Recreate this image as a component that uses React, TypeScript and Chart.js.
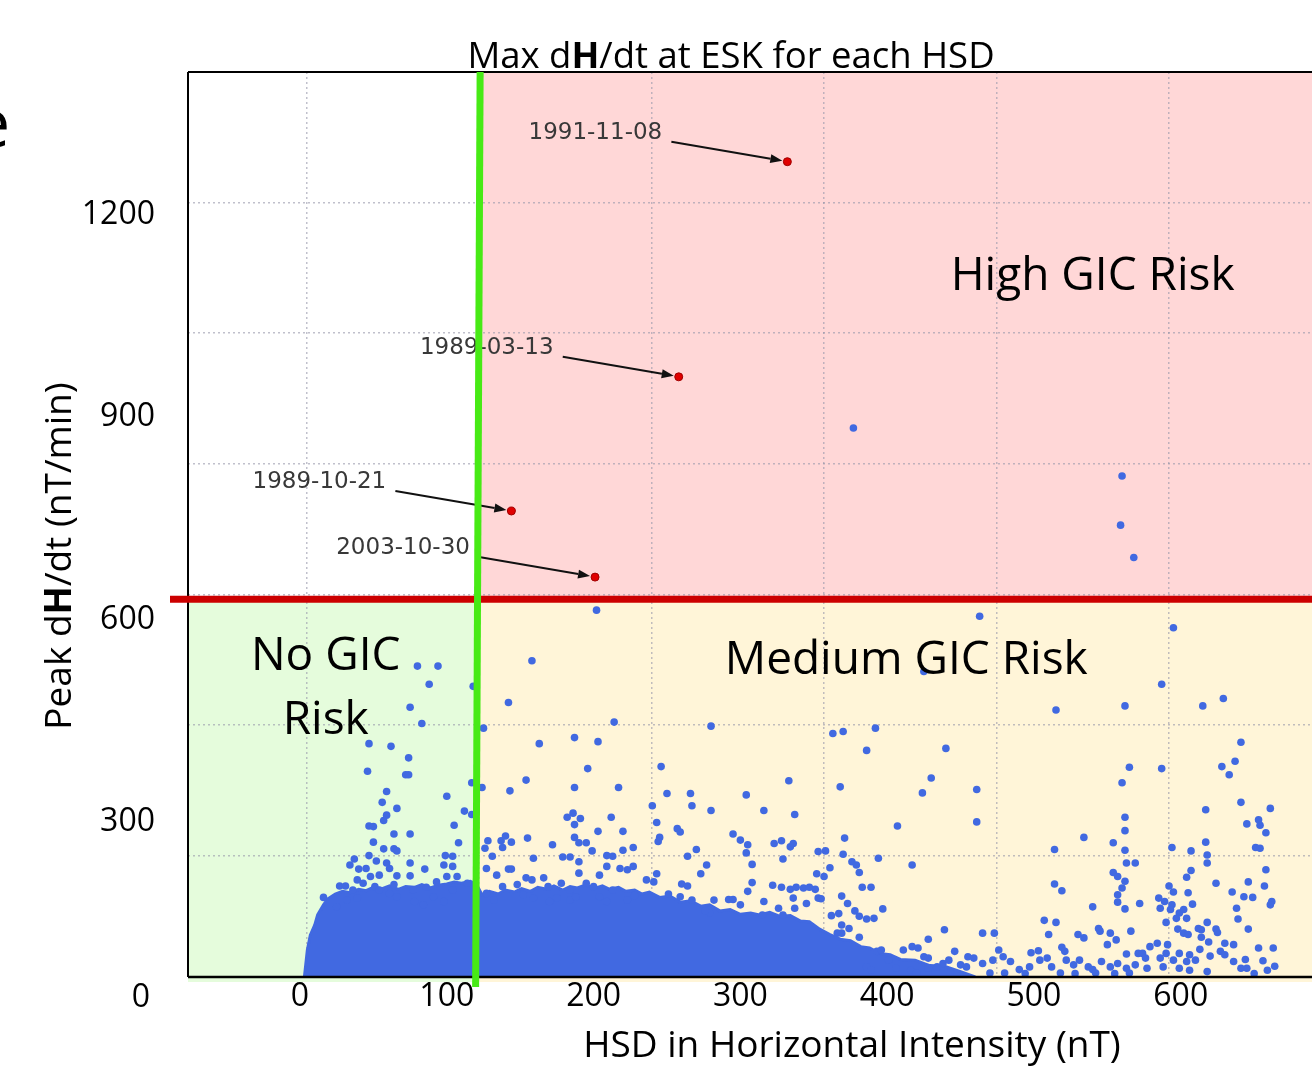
import React, { useEffect, useRef } from "react";
import { Chart, registerables } from "chart.js";

Chart.register(...registerables);

// ---------- axis values ----------
const X_TICKS = [0, 100, 200, 300, 400, 500, 600];
const Y_TICKS = [300, 600, 900, 1200];
const X_MIN = -76.3;
const X_MAX = 689.4;
const Y_MIN = 70;
const Y_MAX = 1412;
// grid of the underlying figure (it does not line up with the overlaid tick labels)
const GRID_X_VALUES = [0, 100, 200, 300, 400, 500];
const GRID_X_MIN = -68.6;
const GRID_X_MAX = 583;
const GRID_Y_VALUES = [200, 400, 600, 800, 1000, 1200];
const GRID_Y_MIN = 14.4;
const GRID_Y_MAX = 1399.4;

// risk thresholds
const HSD_THRESHOLD = 121;
const DHDT_THRESHOLD = 630;

// ---------- texts ----------
const TITLE: [string, boolean][] = [["Max d", false], ["H", true], ["/dt at ESK for each HSD", false]];
const Y_TITLE: [string, boolean][] = [["Peak d", false], ["H", true], ["/dt (nT/min)", false]];
const X_TITLE = "HSD in Horizontal Intensity (nT)";
const REGION_LABELS = ["High GIC Risk", "Medium GIC Risk", "No GIC", "Risk"];

// ---------- annotated events (red points) ----------
const EVENT_DATES = ["1991-11-08", "1989-03-13", "1989-10-21", "2003-10-30"];
const EVENT_HSD = [332, 258, 144, 201];
const EVENT_DHDT = [1279, 960, 761, 663];

// ---------- dense core of the cloud (upper envelope) ----------
const DENSE_EDGE_HSD = [3, 5, 7, 10, 12, 16, 19, 24, 29, 34, 40, 45, 50, 56, 61, 67, 72, 78, 83, 89, 94, 100, 105, 110, 116, 120, 124, 129, 135, 140, 146, 151, 157, 162, 168, 173, 179, 184, 189, 195, 200, 206, 211, 217, 222, 228, 233, 238, 245, 252, 259, 266, 273, 279, 286, 293, 300, 307, 313, 320, 327, 334, 341, 347, 354, 361, 368, 375, 382, 388, 395, 402, 409, 419, 429, 439, 450, 460];
const DENSE_EDGE_DHDT = [70, 110, 132, 147, 162, 177, 186, 193, 197, 195, 200, 198, 203, 201, 205, 200, 204, 203, 207, 202, 206, 208, 211, 209, 212, 208, 192, 197, 193, 199, 196, 201, 197, 203, 200, 205, 199, 204, 202, 207, 201, 205, 200, 203, 197, 199, 193, 196, 188, 190, 181, 183, 175, 177, 168, 170, 163, 165, 162, 166, 160, 161, 153, 152, 141, 133, 126, 124, 115, 113, 105, 103, 96, 95, 87, 86, 78, 70];

// ---------- individual HSD points [HSD, peak dH/dt] ----------
const NO_RISK_POINTS = [
  [80, 531], [94, 531], [88, 504], [75, 470], [83, 446], [47, 416], [62, 412], [74, 395], [46, 375], [72, 370],
  [74, 370], [59, 345], [100, 338], [56, 329], [66, 320], [59, 310], [57, 302], [47, 294], [50, 293], [105, 295],
  [64, 282], [75, 282], [50, 270], [108, 269], [57, 260], [64, 260], [66, 257], [47, 250], [99, 250], [104, 249],
  [37, 245], [34, 236], [52, 242], [59, 239], [75, 239], [98, 236], [104, 234], [40, 230], [45, 231], [61, 231],
  [85, 230], [48, 219], [54, 221], [66, 220], [75, 220], [93, 211], [100, 219], [107, 219], [39, 214], [43, 209],
  [27, 205], [31, 205], [36, 199], [16, 188], [51, 204], [54, 199], [64, 207], [86, 203], [77, 199], [104, 199],
  [32, 184], [39, 187], [61, 194], [66, 189], [91, 189], [98, 182], [78, 182], [84, 177], [25, 174],
  [118, 501], [117, 358], [112, 316], [117, 311], [114, 209],
];

const MEDIUM_POINTS_A = [
  [202, 614], [158, 539], [142, 477], [214, 448], [125, 439], [187, 425], [203, 419], [163, 416], [196, 379], [154, 362],
  [124, 351], [143, 346], [187, 351], [217, 351], [182, 307], [186, 313], [191, 305], [212, 307], [187, 296], [203, 286],
  [220, 286], [140, 279], [137, 272], [144, 270], [128, 272], [155, 276], [187, 277], [190, 269], [172, 266], [138, 262],
  [195, 269], [199, 257], [126, 261], [131, 249], [159, 246], [179, 248], [184, 248], [190, 241], [209, 250], [213, 249],
  [220, 258], [142, 230], [144, 230], [127, 231], [134, 221], [154, 217], [158, 214], [166, 217], [190, 224], [204, 221],
  [209, 234], [218, 231], [223, 229], [138, 204], [148, 207], [169, 204], [178, 209], [184, 199], [195, 209], [200, 204],
  [213, 199], [127, 194], [132, 184], [152, 192], [159, 187], [170, 182], [175, 187], [184, 184], [188, 189], [204, 189],
  [209, 182], [223, 184],
];

const MEDIUM_POINTS_B = [
  [280, 442], [246, 382], [333, 361], [250, 342], [266, 342], [304, 340], [240, 324], [267, 324], [280, 317], [316, 317],
  [337, 311], [243, 299], [257, 290], [259, 285], [245, 277], [244, 271], [295, 282], [300, 273], [305, 266], [323, 268],
  [328, 272], [334, 263], [336, 268], [227, 262], [270, 259], [264, 249], [304, 254], [329, 245], [277, 236], [308, 237],
  [227, 234], [273, 223], [243, 223], [236, 214], [241, 211], [260, 208], [264, 205], [308, 210], [322, 206], [328, 203],
  [334, 200], [338, 203], [228, 191], [251, 193], [259, 189], [267, 184], [305, 197], [282, 184], [292, 185], [295, 185],
  [316, 182], [336, 187], [300, 177], [279, 165], [276, 168], [326, 172], [337, 172], [315, 162], [329, 162],
];

const MEDIUM_POINTS_C = [
  [425, 523], [363, 431], [370, 434], [392, 439], [386, 406], [440, 409], [430, 365], [368, 352], [424, 343], [407, 294],
  [371, 276], [353, 256], [358, 257], [370, 252], [394, 246], [376, 241], [379, 236], [361, 232], [417, 236], [352, 223],
  [357, 219], [381, 225], [343, 202], [347, 203], [351, 200], [383, 203], [389, 203], [369, 190], [345, 179], [353, 187],
  [355, 186], [373, 179], [378, 168], [397, 171], [381, 160], [386, 156], [391, 157], [362, 161], [367, 164], [369, 147],
  [374, 142], [439, 140], [428, 126], [381, 129], [366, 135], [369, 135], [417, 115], [421, 113], [411, 110], [393, 108],
  [396, 110], [446, 108], [455, 100], [425, 100], [428, 98], [401, 95], [438, 90], [442, 95], [434, 85], [406, 83],
  [416, 80], [428, 83], [450, 88], [454, 85], [386, 85], [389, 80], [420, 76], [443, 76],
];

const MEDIUM_POINTS_D = [
  [463, 605], [562, 472], [515, 466], [565, 381], [560, 358], [461, 348], [562, 307], [461, 300], [562, 287], [534, 277],
  [554, 269], [514, 259], [562, 258], [563, 239], [569, 239], [554, 225], [557, 219], [562, 212], [514, 208], [519, 198],
  [560, 202], [557, 192], [557, 181], [572, 179], [540, 174], [562, 171], [507, 154], [515, 151], [566, 138], [465, 135],
  [473, 135], [510, 133], [530, 133], [534, 128], [544, 142], [545, 138], [552, 135], [556, 125], [550, 118], [519, 114],
  [521, 108], [476, 110], [503, 109], [498, 106], [563, 104], [571, 105], [459, 98], [465, 90], [472, 95], [479, 100],
  [484, 93], [490, 81], [497, 85], [504, 95], [509, 98], [512, 85], [522, 95], [527, 88], [531, 95], [537, 85],
  [540, 81], [546, 93], [552, 85], [557, 90], [563, 83], [569, 88], [470, 76], [480, 76], [494, 75], [518, 76],
  [528, 75], [542, 76], [555, 75], [565, 76],
];

const MEDIUM_POINTS_E = [
  [595, 588], [587, 504], [629, 483], [615, 472], [641, 418], [637, 390], [628, 382], [633, 370], [587, 379], [641, 329],
  [617, 318], [661, 320], [653, 303], [654, 295], [645, 297], [658, 284], [617, 270], [594, 262], [607, 257], [618, 251],
  [618, 239], [651, 262], [654, 261], [658, 229], [607, 228], [604, 218], [624, 209], [646, 211], [657, 205], [592, 205],
  [595, 196], [605, 195], [635, 196], [643, 189], [649, 188], [585, 187], [589, 182], [594, 177], [662, 182], [661, 177],
  [608, 178], [586, 172], [593, 170], [599, 165], [602, 170], [638, 172], [597, 157], [604, 157], [639, 156], [590, 151],
  [618, 151], [612, 142], [614, 140], [624, 141], [625, 136], [646, 141], [598, 141], [602, 135], [605, 133], [614, 129],
  [619, 122], [579, 115], [584, 120], [591, 118], [630, 120], [636, 118], [613, 111], [653, 113], [663, 113], [574, 105],
  [590, 105], [599, 105], [606, 103], [627, 108], [630, 103], [620, 101], [576, 98], [586, 98], [595, 95], [604, 93],
  [610, 95], [636, 93], [644, 96], [656, 94], [577, 83], [588, 85], [599, 83], [606, 80], [618, 78], [641, 83],
  [645, 83], [659, 80], [664, 86], [650, 75],
];

const HIGH_RISK_POINTS = [[377, 884], [560, 813], [559, 740], [568, 692]];

// ---------- styling ----------
const FONT = "'Open Sans', sans-serif";
const BLUE = "#4169e1";
const NO_RISK_BG = "#e5fcdc";
const HIGH_BG = "#ffd7d7";
const MEDIUM_BG = "#fff5d8";

function drawRich(ctx: any, parts: [string, boolean][], x: number, y: number, size: number) {
  const widths = parts.map(([t, b]) => {
    ctx.font = `${b ? "bold " : ""}${size}px ${FONT}`;
    return ctx.measureText(t).width;
  });
  const total = widths.reduce((s, w) => s + w, 0);
  let cx = x - total / 2;
  ctx.textAlign = "left";
  ctx.textBaseline = "alphabetic";
  parts.forEach(([t, b], i) => {
    ctx.font = `${b ? "bold " : ""}${size}px ${FONT}`;
    ctx.fillText(t, cx, y);
    cx += widths[i];
  });
}

function drawArrow(ctx: any, x1: number, y1: number, x2: number, y2: number) {
  const ang = Math.atan2(y2 - y1, x2 - x1);
  const head = 12;
  const hw = 4.5;
  const bx = x2 - head * Math.cos(ang);
  const by = y2 - head * Math.sin(ang);
  ctx.strokeStyle = "#111";
  ctx.fillStyle = "#111";
  ctx.lineWidth = 2;
  ctx.beginPath();
  ctx.moveTo(x1, y1);
  ctx.lineTo(bx, by);
  ctx.stroke();
  ctx.beginPath();
  ctx.moveTo(x2, y2);
  ctx.lineTo(bx + hw * Math.sin(ang), by - hw * Math.cos(ang));
  ctx.lineTo(bx - hw * Math.sin(ang), by + hw * Math.cos(ang));
  ctx.closePath();
  ctx.fill();
}

const overlayPlugin = {
  id: "overlay",
  beforeDraw(chart: any) {
    const { ctx, chartArea: a, scales } = chart;
    const gx = scales.x.getPixelForValue(HSD_THRESHOLD);
    const ry = scales.y.getPixelForValue(DHDT_THRESHOLD);
    ctx.save();
    ctx.fillStyle = "#ffffff";
    ctx.fillRect(0, 0, chart.width, chart.height);
    ctx.fillStyle = NO_RISK_BG;
    ctx.fillRect(a.left, ry, gx - a.left, a.bottom + 5 - ry);
    ctx.fillStyle = HIGH_BG;
    ctx.fillRect(gx, a.top, a.right - gx, ry - a.top);
    ctx.fillStyle = MEDIUM_BG;
    ctx.fillRect(gx, ry, a.right - gx, a.bottom + 5 - ry);
    ctx.restore();
  },
  afterDatasetsDraw(chart: any) {
    const { ctx, chartArea: a, scales } = chart;
    const xs = scales.x;
    const ys = scales.y;
    ctx.save();

    // frame
    ctx.strokeStyle = "#000";
    ctx.lineWidth = 2;
    ctx.beginPath();
    ctx.moveTo(a.left, a.top);
    ctx.lineTo(a.right, a.top);
    ctx.moveTo(a.left, a.top);
    ctx.lineTo(a.left, a.bottom);
    ctx.stroke();
    ctx.lineWidth = 2.5;
    ctx.beginPath();
    ctx.moveTo(a.left, a.bottom);
    ctx.lineTo(a.right, a.bottom);
    ctx.stroke();

    // event annotations
    EVENT_DATES.forEach((label, i) => {
      const px = xs.getPixelForValue(EVENT_HSD[i]);
      const py = ys.getPixelForValue(EVENT_DHDT[i]);
      ctx.font = "23px 'DejaVu Sans', sans-serif";
      ctx.fillStyle = "#383838";
      ctx.textAlign = "center";
      ctx.textBaseline = "alphabetic";
      ctx.fillText(label, px - 192, py - 23);
      drawArrow(ctx, px - 116, py - 20, px - 5, py - 1);
    });

    // threshold lines
    const gx = xs.getPixelForValue(HSD_THRESHOLD);
    const ry = ys.getPixelForValue(DHDT_THRESHOLD);
    ctx.strokeStyle = "#cc0000";
    ctx.lineWidth = 7;
    ctx.beginPath();
    ctx.moveTo(a.left - 18, ry);
    ctx.lineTo(a.right, ry);
    ctx.stroke();
    ctx.strokeStyle = "#47ea15";
    ctx.lineWidth = 7;
    ctx.beginPath();
    ctx.moveTo(gx + 2.5, a.top);
    ctx.lineTo(gx - 2, a.bottom + 10);
    ctx.stroke();

    // region labels
    ctx.fillStyle = "#000";
    ctx.textAlign = "center";
    ctx.textBaseline = "alphabetic";
    ctx.font = `46px ${FONT}`;
    ctx.fillText(REGION_LABELS[0], xs.getPixelForValue(540), ys.getPixelForValue(1089));
    ctx.fillText(REGION_LABELS[1], xs.getPixelForValue(413), ys.getPixelForValue(520));
    ctx.fillText(REGION_LABELS[2], xs.getPixelForValue(17.5), ys.getPixelForValue(525));
    ctx.fillText(REGION_LABELS[3], xs.getPixelForValue(17.5), ys.getPixelForValue(431));

    // titles
    ctx.fillStyle = "#000";
    drawRich(ctx, TITLE, 731, a.top - 4, 36.5);
    ctx.textAlign = "center";
    ctx.font = `37px ${FONT}`;
    ctx.fillText(X_TITLE, 852, 1057);
    ctx.save();
    ctx.translate(71, 556);
    ctx.rotate(-Math.PI / 2);
    drawRich(ctx, Y_TITLE, 0, 0, 37);
    ctx.restore();

    // stray zero label of the overlaid y axis
    ctx.textAlign = "center";
    ctx.font = `32px ${FONT}`;
    ctx.fillText("0", 141, 1007);

    // clipped fragment of slide text at the left edge
    ctx.textAlign = "left";
    ctx.font = `68px ${FONT}`;
    ctx.fillText("e", -28, 147);

    ctx.restore();
  },
};

const toXY = (arr: number[][]) => arr.map(([x, y]) => ({ x, y }));

export default function App() {
  const ref = useRef<HTMLCanvasElement | null>(null);

  useEffect(() => {
    if (!ref.current) return;
    const bluePoints = [
      ...NO_RISK_POINTS,
      ...MEDIUM_POINTS_A,
      ...MEDIUM_POINTS_B,
      ...MEDIUM_POINTS_C,
      ...MEDIUM_POINTS_D,
      ...MEDIUM_POINTS_E,
      ...HIGH_RISK_POINTS,
    ];
    const chart = new Chart(ref.current, {
      type: "scatter",
      data: {
        datasets: [
          {
            label: "Annotated events",
            data: EVENT_HSD.map((x, i) => ({ x, y: EVENT_DHDT[i] })),
            backgroundColor: "#e00000",
            borderColor: "#a00000",
            borderWidth: 1,
            pointRadius: 4,
            xAxisID: "x",
            yAxisID: "y",
            order: 0,
          },
          {
            label: "HSD",
            data: toXY(bluePoints),
            backgroundColor: BLUE,
            borderColor: BLUE,
            borderWidth: 0,
            pointRadius: 3.8,
            xAxisID: "x",
            yAxisID: "y",
            order: 1,
          },
          {
            type: "line",
            label: "Dense HSD core",
            data: DENSE_EDGE_HSD.map((x, i) => ({ x, y: DENSE_EDGE_DHDT[i] })),
            showLine: true,
            fill: "start",
            backgroundColor: BLUE,
            borderColor: BLUE,
            borderWidth: 3,
            pointRadius: 0,
            tension: 0,
            xAxisID: "x",
            yAxisID: "y",
            order: 2,
          } as any,
        ],
      },
      options: {
        animation: false,
        responsive: false,
        events: [],
        layout: { autoPadding: false, padding: { left: 0, right: 0, top: 72, bottom: 0 } },
        plugins: {
          legend: { display: false },
          tooltip: { enabled: false },
          title: { display: false },
        },
        scales: {
          x: {
            type: "linear",
            position: "bottom",
            min: X_MIN,
            max: X_MAX,
            afterBuildTicks: (s: any) => {
              s.ticks = X_TICKS.map((v) => ({ value: v }));
            },
            afterFit: (s: any) => {
              s.height = 96;
            },
            grid: { display: false, drawTicks: false },
            border: { display: false },
            ticks: {
              callback: (v: any) => String(v),
              font: { family: FONT, size: 32 },
              color: "#000",
              padding: 1,
              maxRotation: 0,
              autoSkip: false,
            },
          },
          y: {
            type: "linear",
            position: "left",
            min: Y_MIN,
            max: Y_MAX,
            afterBuildTicks: (s: any) => {
              s.ticks = Y_TICKS.map((v) => ({ value: v }));
            },
            afterFit: (s: any) => {
              s.width = 188;
            },
            grid: { display: false, drawTicks: false },
            border: { display: false },
            ticks: {
              callback: (v: any) => String(v),
              font: { family: FONT, size: 32 },
              color: "#000",
              padding: 33,
              autoSkip: false,
            },
          },
          xg: {
            type: "linear",
            axis: "x",
            position: "top",
            min: GRID_X_MIN,
            max: GRID_X_MAX,
            afterBuildTicks: (s: any) => {
              s.ticks = GRID_X_VALUES.map((v) => ({ value: v }));
            },
            afterFit: (s: any) => {
              s.height = 0;
            },
            grid: { display: true, drawTicks: false, color: "rgba(150,150,170,0.6)", lineWidth: 1.5 },
            border: { display: false, dash: [2, 3] },
            ticks: { display: false },
          },
          yg: {
            type: "linear",
            axis: "y",
            position: "right",
            min: GRID_Y_MIN,
            max: GRID_Y_MAX,
            afterBuildTicks: (s: any) => {
              s.ticks = GRID_Y_VALUES.map((v) => ({ value: v }));
            },
            afterFit: (s: any) => {
              s.width = 0;
            },
            grid: { display: true, drawTicks: false, color: "rgba(150,150,170,0.6)", lineWidth: 1.5 },
            border: { display: false, dash: [2, 3] },
            ticks: { display: false },
          },
        } as any,
      },
      plugins: [overlayPlugin],
    } as any);
    return () => chart.destroy();
  }, []);

  return (
    <div style={{ position: "absolute", left: 0, top: 0, width: 1312, height: 1073, background: "#fff", overflow: "hidden" }}>
      <canvas ref={ref} width={1312} height={1073} style={{ display: "block" }} />
    </div>
  );
}
